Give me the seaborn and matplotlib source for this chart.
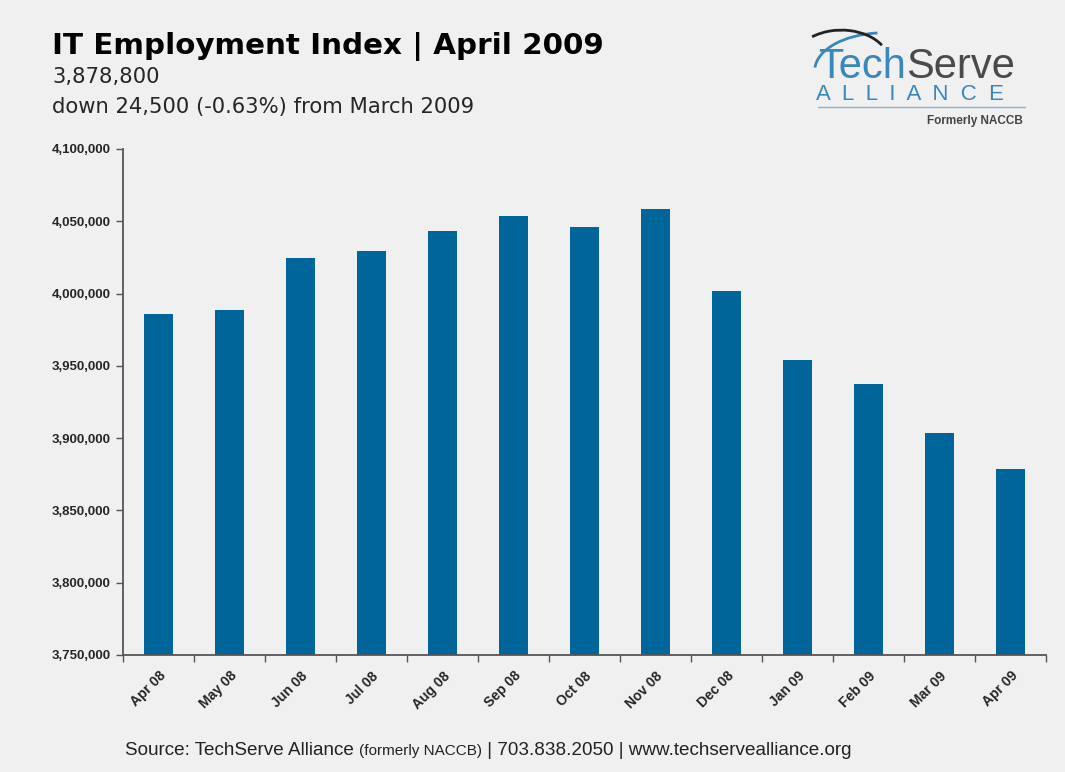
import matplotlib
matplotlib.use("Agg")
import matplotlib.pyplot as plt
import matplotlib.ticker as mticker
from matplotlib.patches import Arc
import seaborn as sns
import numpy as np

months = ["Apr 08", "May 08", "Jun 08", "Jul 08", "Aug 08", "Sep 08", "Oct 08",
          "Nov 08", "Dec 08", "Jan 09", "Feb 09", "Mar 09", "Apr 09"]
employment = [3986000, 3988700, 4024600, 4029500, 4043300, 4053700, 4046100,
              4058500, 4001800, 3954100, 3937500, 3903300, 3878800]
y_ticks = [3750000, 3800000, 3850000, 3900000, 3950000, 4000000, 4050000, 4100000]

bg = "#f0f0f0"
bar_color = "#006699"

sns.set_theme(style="white")
plt.rcParams['font.family'] = ['Liberation Sans', 'DejaVu Sans']

fig = plt.figure(figsize=(10.65, 7.72), dpi=100, facecolor=bg)
ax = fig.add_axes([0.1155, 0.1516, 0.8667, 0.6555])
ax.set_facecolor(bg)

sns.barplot(x=months, y=employment, color=bar_color, saturation=1, width=0.42,
            linewidth=0, edgecolor=bar_color, ax=ax)

ax.set_ylim(y_ticks[0], y_ticks[-1])
ax.set_xlim(-0.5, len(months) - 0.5)
ax.set_yticks(y_ticks)
ax.yaxis.set_major_formatter(mticker.FuncFormatter(lambda v, p: f"{int(v):,}"))
ax.set_xlabel("")
ax.set_ylabel("")

for s in ["top", "right"]:
    ax.spines[s].set_visible(False)
for s in ["left", "bottom"]:
    ax.spines[s].set_color("#555555")
    ax.spines[s].set_linewidth(1.3)

ax.tick_params(axis="y", which="major", direction="out", length=5, width=1, color="#555555",
               left=True, labelsize=9.5, pad=4)
for lab in ax.get_yticklabels():
    lab.set_fontweight("bold")

# labels at bar centres, tick marks at the boundaries
ax.set_xticks(np.arange(len(months)))
ax.set_xticklabels(months, rotation=45, ha="right", rotation_mode="anchor",
                   fontsize=10, fontweight="bold")
ax.tick_params(axis="x", which="major", length=0, pad=10)
ax.set_xticks(np.arange(len(months) + 1) - 0.5, minor=True)
ax.tick_params(axis="x", which="minor", direction="out", length=5, width=1,
               color="#555555", bottom=True)

# titles
fig.text(0.049, 0.930, "IT Employment Index | April 2009", fontsize=21.2, fontweight="bold",
         family="DejaVu Sans", color="black", va="baseline")
fig.text(0.049, 0.893, "3,878,800", fontsize=15.2, family="DejaVu Sans", va="baseline")
fig.text(0.049, 0.854, "down 24,500 (-0.63%) from March 2009", fontsize=15.2,
         family="DejaVu Sans", va="baseline")

# logo
t_tech = fig.text(0.768, 0.899, "Tech", fontsize=30, color="#3a87bd", va="baseline")
fig.canvas.draw()
bb = t_tech.get_window_extent().transformed(fig.transFigure.inverted())
fig.text(bb.x1, 0.899, "Serve", fontsize=30, color="#4a4a4a", va="baseline")
fig.text(0.766, 0.871, "A  L  L  I  A  N  C  E", fontsize=16, color="#3a87bd", va="baseline")
fig.add_artist(plt.Line2D([0.768, 0.962], [0.861, 0.861], color="#8ab4d4", lw=1))
fig.text(0.960, 0.840, "Formerly NACCB", fontsize=8.5, fontweight="bold", color="#444444",
         ha="right", va="baseline")
logo_ax = fig.add_axes([0.755, 0.905, 0.10, 0.07])
logo_ax.set_xlim(0, 1)
logo_ax.set_ylim(0, 1)
logo_ax.axis("off")
logo_ax.add_patch(Arc((0.75, 0.05), 1.3, 1.4, theta1=95, theta2=175, color="#3a87bd", lw=2))
logo_ax.add_patch(Arc((0.35, 0.2), 0.9, 1.2, theta1=40, theta2=120, color="#222222", lw=2))

# source
fam = ["Liberation Sans Narrow", "Liberation Sans"]
src = fig.text(0.117, 0.022, "Source: TechServe Alliance ", fontsize=13.6,
               family=fam, color="#222222", va="baseline")
fig.canvas.draw()
bb = src.get_window_extent().transformed(fig.transFigure.inverted())
t2 = fig.text(bb.x1, 0.022, "(formerly NACCB)", fontsize=11,
              family=fam, color="#222222", va="baseline")
fig.canvas.draw()
bb2 = t2.get_window_extent().transformed(fig.transFigure.inverted())
fig.text(bb2.x1, 0.022, " | 703.838.2050 | www.techservealliance.org", fontsize=13.6,
         family=fam, color="#222222", va="baseline")

fig.savefig("out.png", dpi=100, facecolor=bg)
